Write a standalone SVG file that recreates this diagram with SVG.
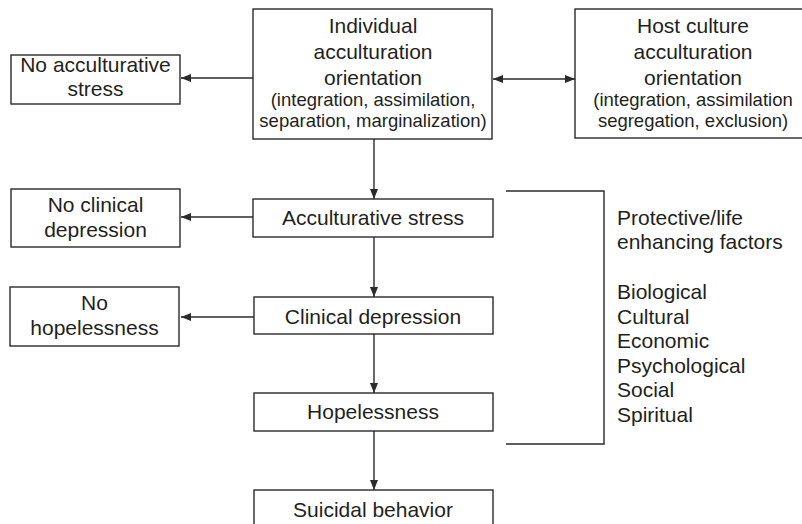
<svg xmlns="http://www.w3.org/2000/svg" width="802" height="524" viewBox="0 0 802 524">
<style>
.box{fill:#fff;stroke:#2a2a2a;stroke-width:1.4}
.t{font-family:"Liberation Sans",Arial,sans-serif;font-size:21px;fill:#231f20;text-anchor:middle}
.s{font-size:18.5px}
.l{text-anchor:start}
.c{stroke:#2a2a2a;stroke-width:1.4;fill:none}
</style>
<defs>
<marker id="ah" viewBox="0 0 10 8" refX="10" refY="4" markerWidth="10" markerHeight="8" markerUnits="userSpaceOnUse" orient="auto-start-reverse">
<path d="M0,0 L10,4 L0,8 Z" fill="#2a2a2a"/>
</marker>
</defs>
<rect width="802" height="524" fill="#fff"/>
<g id="connectors">
<line class="c" x1="253" y1="78" x2="181" y2="78" marker-end="url(#ah)"/>
<line class="c" x1="493" y1="79" x2="575" y2="79" marker-start="url(#ah)" marker-end="url(#ah)"/>
<line class="c" x1="374" y1="139" x2="374" y2="199" marker-end="url(#ah)"/>
<line class="c" x1="253" y1="217" x2="181" y2="217" marker-end="url(#ah)"/>
<line class="c" x1="374" y1="237" x2="374" y2="297" marker-end="url(#ah)"/>
<line class="c" x1="254" y1="317" x2="181" y2="317" marker-end="url(#ah)"/>
<line class="c" x1="374" y1="334" x2="374" y2="393" marker-end="url(#ah)"/>
<line class="c" x1="374" y1="431" x2="374" y2="490" marker-end="url(#ah)"/>
<path class="c" d="M506,191 H604 V444 H506"/>
</g>
<g id="no-stress">
<rect class="box" x="11" y="55" width="169" height="49"/>
<text class="t" x="95.5" y="72">No acculturative</text>
<text class="t" x="95.5" y="96">stress</text>
</g>
<g id="individual">
<rect class="box" x="253" y="9" width="239" height="130"/>
<text class="t" x="373" y="33">Individual</text>
<text class="t" x="373" y="59">acculturation</text>
<text class="t" x="373" y="85">orientation</text>
<text class="t s" x="373" y="106">(integration, assimilation,</text>
<text class="t s" x="373" y="127">separation, marginalization)</text>
</g>
<g id="host">
<rect class="box" x="575" y="9" width="240" height="129"/>
<text class="t" x="693" y="33">Host culture</text>
<text class="t" x="693" y="59">acculturation</text>
<text class="t" x="693" y="85">orientation</text>
<text class="t s" x="693" y="106">(integration, assimilation</text>
<text class="t s" x="693" y="127">segregation, exclusion)</text>
</g>
<g id="acc-stress">
<rect class="box" x="253" y="199" width="240" height="38"/>
<text class="t" x="373" y="225">Acculturative stress</text>
</g>
<g id="no-depression">
<rect class="box" x="11" y="189" width="169" height="58"/>
<text class="t" x="95.5" y="212">No clinical</text>
<text class="t" x="95.5" y="237">depression</text>
</g>
<g id="depression">
<rect class="box" x="254" y="297" width="239" height="37"/>
<text class="t" x="373" y="324">Clinical depression</text>
</g>
<g id="no-hopelessness">
<rect class="box" x="10" y="287" width="169" height="59"/>
<text class="t" x="94.5" y="310">No</text>
<text class="t" x="94.5" y="335">hopelessness</text>
</g>
<g id="hopelessness">
<rect class="box" x="254" y="393" width="239" height="38"/>
<text class="t" x="373" y="419">Hopelessness</text>
</g>
<g id="suicidal">
<rect class="box" x="254" y="490" width="239" height="45"/>
<text class="t" x="373" y="517">Suicidal behavior</text>
</g>
<g id="protective">
<text class="t l" x="617" y="225">Protective/life</text>
<text class="t l" x="617" y="249">enhancing factors</text>
<text class="t l" x="617" y="299">Biological</text>
<text class="t l" x="617" y="323.5">Cultural</text>
<text class="t l" x="617" y="348">Economic</text>
<text class="t l" x="617" y="372.5">Psychological</text>
<text class="t l" x="617" y="397">Social</text>
<text class="t l" x="617" y="421.5">Spiritual</text>
</g>
</svg>
